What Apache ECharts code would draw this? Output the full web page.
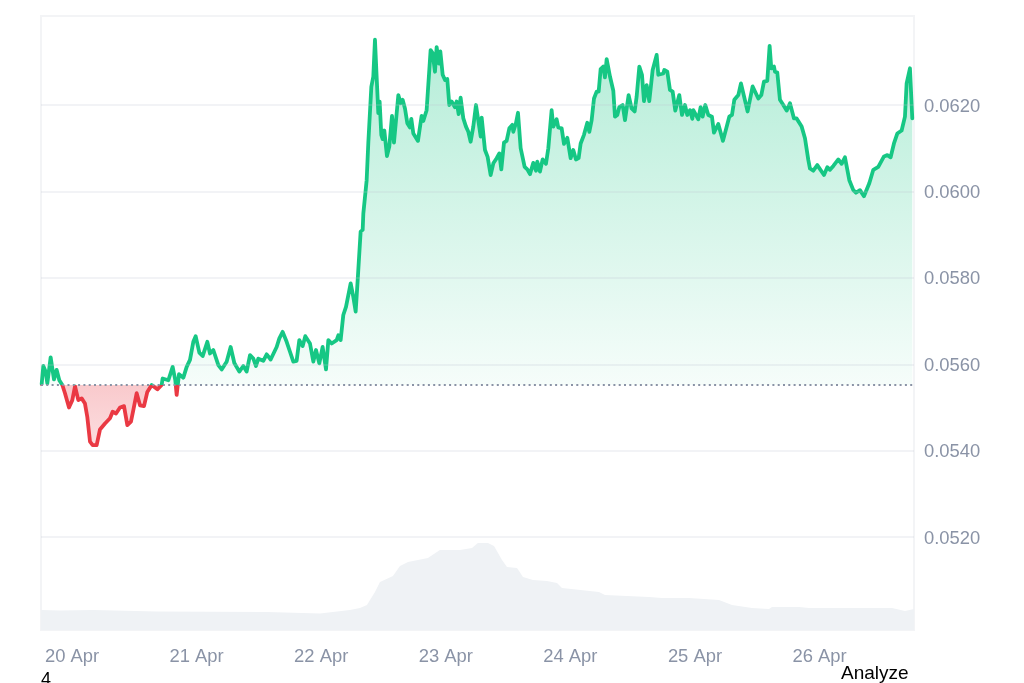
<!DOCTYPE html>
<html>
<head>
<meta charset="utf-8">
<style>html,body{margin:0;padding:0;background:#fff;overflow:hidden}#c{width:1024px;height:683px}</style>
<script src="https://cdn.jsdelivr.net/npm/echarts@6/dist/echarts.min.js"></script>
</head>
<body>
<div id="c"></div>
<script>
// hours since 00:00 on 20 Apr
const priceHours = [-5.84,-5.52,-5.07,-4.75,-4.11,-3.47,-2.95,-2.44,-1.86,-1.35,-0.58,0.06,0.58,1.22,1.86,2.50,2.95,3.47,3.98,4.75,5.39,6.36,7.32,7.83,8.48,9.25,10.02,10.66,11.36,11.81,12.46,13.10,13.87,14.51,15.35,16.44,17.27,17.46,18.56,19.39,19.90,20.16,20.61,21.45,22.09,22.73,23.37,23.82,24.53,25.17,26.07,26.58,27.22,28.19,28.83,29.79,30.56,31.27,32.23,33.00,33.64,34.29,34.93,35.44,35.89,36.85,37.50,38.27,39.42,39.94,40.58,41.35,41.99,42.63,43.27,43.79,44.43,44.94,45.84,46.49,47.00,47.64,48.28,48.93,49.38,50.02,50.98,51.30,51.75,52.26,52.78,53.68,54.19,54.64,55.03,55.60,55.99,56.12,56.76,57.08,57.40,57.66,58.04,58.36,58.68,59.00,59.26,59.58,59.84,60.16,60.67,61.12,61.38,61.64,62.02,62.86,63.31,63.69,64.14,64.59,65.10,65.36,65.75,66.64,67.35,67.67,68.31,69.08,69.47,69.92,70.24,70.50,70.69,70.95,71.40,71.85,72.29,72.68,73.13,73.77,74.09,74.48,74.86,75.38,75.89,76.34,76.79,77.30,77.82,78.14,78.72,78.91,79.55,80.06,80.64,81.16,81.80,82.31,82.70,83.21,83.72,84.24,84.81,85.01,85.52,85.91,86.42,86.74,87.19,87.70,88.22,88.86,89.37,89.63,90.14,90.66,91.04,91.30,91.75,92.39,92.71,93.35,93.67,94.32,94.77,95.41,96.05,96.56,97.08,97.59,97.98,98.62,99.26,99.65,100.10,100.55,101.06,101.45,101.83,102.34,102.66,102.99,103.63,104.27,104.59,105.04,105.42,106.07,106.52,107.22,107.80,108.38,108.76,109.28,109.79,110.18,110.69,111.20,111.85,112.62,112.94,113.90,114.09,114.67,115.18,115.70,116.21,116.98,117.50,118.07,118.52,119.04,119.49,119.68,120.64,121.09,121.48,121.99,122.57,123.27,123.66,124.49,125.39,126.61,127.13,127.58,128.35,128.86,129.18,130.14,131.11,132.20,132.78,133.29,133.93,134.38,134.70,135.22,135.41,135.86,136.37,137.02,137.66,138.30,139.07,139.58,140.55,141.19,141.83,142.15,142.79,143.56,144.85,145.49,146.00,146.65,147.61,148.25,148.89,149.73,150.50,151.01,151.78,152.55,153.58,154.35,155.31,156.41,157.05,157.69,158.33,158.97,159.81,160.45,160.77,161.41,161.86];
const prices = [0.05554,0.05596,0.05583,0.05556,0.05616,0.05565,0.05587,0.05563,0.05552,0.05533,0.05500,0.05517,0.05549,0.05517,0.05521,0.05509,0.05478,0.05421,0.05413,0.05413,0.05449,0.05463,0.05475,0.05490,0.05486,0.05500,0.05503,0.05459,0.05467,0.05494,0.05533,0.05505,0.05503,0.05536,0.05552,0.05542,0.05552,0.05567,0.05563,0.05594,0.05563,0.05529,0.05577,0.05569,0.05594,0.05610,0.05652,0.05665,0.05627,0.05619,0.05652,0.05625,0.05633,0.05598,0.05588,0.05606,0.05640,0.05603,0.05583,0.05596,0.05583,0.05621,0.05613,0.05596,0.05613,0.05608,0.05623,0.05611,0.05640,0.05660,0.05675,0.05652,0.05629,0.05606,0.05608,0.05656,0.05642,0.05665,0.05648,0.05606,0.05633,0.05602,0.05640,0.05588,0.05656,0.05648,0.05656,0.05667,0.05656,0.05714,0.05733,0.05787,0.05756,0.05722,0.05795,0.05907,0.05911,0.05949,0.06026,0.06113,0.06115,0.06242,0.06266,0.06351,0.06266,0.06181,0.06208,0.06131,0.06121,0.06141,0.06082,0.06104,0.06108,0.06175,0.06113,0.06223,0.06204,0.06212,0.06192,0.06158,0.06148,0.06168,0.06134,0.06117,0.06175,0.06163,0.06188,0.06327,0.06320,0.06277,0.06334,0.06331,0.06296,0.06324,0.06270,0.06258,0.06260,0.06200,0.06208,0.06195,0.06208,0.06179,0.06217,0.06169,0.06150,0.06138,0.06115,0.06150,0.06200,0.06198,0.06127,0.06171,0.06096,0.06080,0.06038,0.06065,0.06077,0.06088,0.06051,0.06113,0.06117,0.06146,0.06154,0.06138,0.06158,0.06182,0.06100,0.06104,0.06057,0.06051,0.06040,0.06066,0.06048,0.06069,0.06046,0.06074,0.06074,0.06064,0.06100,0.06188,0.06150,0.06167,0.06148,0.06146,0.06110,0.06124,0.06077,0.06096,0.06074,0.06077,0.06111,0.06131,0.06159,0.06138,0.06165,0.06215,0.06231,0.06231,0.06283,0.06289,0.06264,0.06306,0.06266,0.06233,0.06173,0.06177,0.06195,0.06200,0.06165,0.06223,0.06192,0.06185,0.06219,0.06289,0.06270,0.06209,0.06246,0.06209,0.06281,0.06316,0.06270,0.06273,0.06281,0.06277,0.06235,0.06231,0.06187,0.06223,0.06177,0.06200,0.06177,0.06188,0.06168,0.06188,0.06167,0.06195,0.06173,0.06200,0.06177,0.06173,0.06136,0.06156,0.06117,0.06173,0.06177,0.06212,0.06223,0.06250,0.06250,0.06185,0.06243,0.06215,0.06223,0.06254,0.06256,0.06337,0.06285,0.06289,0.06277,0.06275,0.06212,0.06200,0.06187,0.06204,0.06169,0.06169,0.06150,0.06123,0.06073,0.06053,0.06048,0.06061,0.06038,0.06056,0.06050,0.06059,0.06074,0.06064,0.06079,0.06026,0.06003,0.05997,0.06003,0.05989,0.06019,0.06050,0.06057,0.06081,0.06084,0.06079,0.06111,0.06134,0.06141,0.06173,0.06250,0.06285,0.06169];
const volumeHours = [-5.97,-2.31,4.05,16.37,37.56,47.77,53.55,55.47,56.82,58.36,59.33,61.83,63.18,64.72,68.57,70.88,74.74,77.05,78.2,80.13,81.29,82.83,83.79,85.72,86.87,88.8,91.5,93.42,94.38,101.51,102.67,111.14,113.65,118.85,124.63,127.13,130.98,134.26,134.84,140.04,141.96,157.95,160.45,162.19];
const volumes = [100,97,100,92,90,83,100,110,125,190,240,270,320,340,360,400,400,410,435,435,420,350,315,310,265,250,245,235,210,190,175,165,160,160,150,125,110,105,115,115,110,110,95,105];
const baseline = 0.05552;
const dayTicks = [0,24,48,72,96,120,144];
const dayLabels = ['20 Apr','21 Apr','22 Apr','23 Apr','24 Apr','25 Apr','26 Apr'];
const priceTicks = [0.052,0.054,0.056,0.058,0.060,0.062];

const GREEN='#16c784', RED='#ea3943', LABEL='#8a93a6', FONT='"Liberation Sans", Arial, sans-serif';
const chart = echarts.init(document.getElementById('c'),null,{renderer:'canvas',width:1024,height:683});
const zipXY=(a,b)=>a.map((x,i)=>[x,b[i]]);
chart.setOption({
  animation:false,
  backgroundColor:'#fff',
  grid:{left:41,right:110,top:16,bottom:53,show:true,borderColor:'#f3f4f6',borderWidth:2,backgroundColor:'transparent'},
  xAxis:{type:'value',min:-5.97,max:162.19,
    splitLine:{show:false},axisLine:{show:false},axisTick:{show:false},
    axisLabel:{customValues:dayTicks,color:LABEL,fontSize:18.4,fontFamily:FONT,margin:18,hideOverlap:false,
      formatter:v=>dayLabels[dayTicks.indexOf(v)]||''}},
  yAxis:[
    {type:'value',position:'right',min:0.04985,max:0.06406,
      splitLine:{show:false},axisLine:{show:false},axisTick:{show:false},
      axisLabel:{customValues:priceTicks,margin:10,formatter:v=>'{p|'+v.toFixed(4)+'}',
        rich:{p:{color:LABEL,fontSize:18.4,fontFamily:FONT,padding:[3,0,0,0]}}}},
    {type:'value',min:0,max:3070,show:false,splitLine:{show:false}}
  ],
  visualMap:{show:false,type:'piecewise',seriesIndex:1,dimension:1,
    pieces:[{min:0.04,max:baseline,color:RED},{min:baseline,max:0.07,color:GREEN}]},
  series:[
    {name:'Volume',type:'line',yAxisIndex:1,z:1,showSymbol:false,silent:true,
      data:zipXY(volumeHours,volumes),lineStyle:{width:0},itemStyle:{color:'#eff2f5'},
      areaStyle:{color:'#eff2f5',opacity:1}},
    {name:'Price',type:'line',yAxisIndex:0,z:3,showSymbol:false,
      data:zipXY(priceHours,prices),
      lineStyle:{width:3.8,cap:'round',join:'round'},
      areaStyle:{origin:baseline,opacity:1,color:{type:'linear',global:true,x:0,y:16,x2:0,y2:630,colorStops:[
        {offset:0,color:'rgba(22,199,132,0.34)'},
        {offset:0.601,color:'rgba(22,199,132,0.04)'},
        {offset:0.601,color:'rgba(234,57,67,0.27)'},
        {offset:0.70,color:'rgba(234,57,67,0.17)'},
        {offset:1,color:'rgba(234,57,67,0.1)'}]}},
      markLine:{silent:true,symbol:'none',animation:false,precision:6,label:{show:false},
        data:[
          ...priceTicks.map(t=>({yAxis:t,lineStyle:{color:'rgba(190,196,208,0.2)',width:2,type:'solid'}})),
          {yAxis:baseline,lineStyle:{color:'#8a93a6',width:2,type:[2,3.3]}}
        ]}}
  ],
  graphic:[
    {type:'text',left:41,top:671,style:{text:'4',fontSize:18,fontFamily:FONT,fill:'#000'}},
    {type:'text',left:841,top:664,style:{text:'Analyze',fontSize:19,fontFamily:FONT,fill:'#000'}}
  ]
});
</script>
</body>
</html>
